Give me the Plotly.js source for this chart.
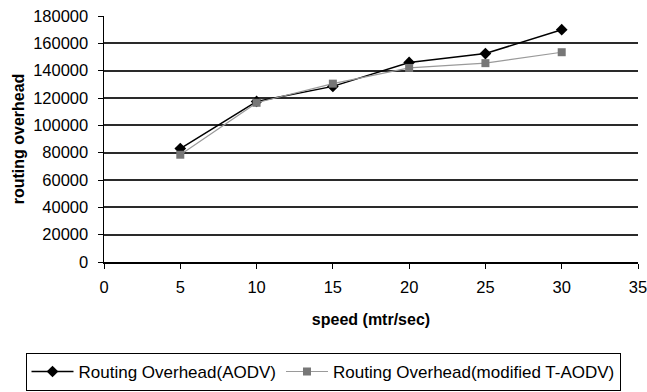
<!DOCTYPE html>
<html><head><meta charset="utf-8">
<script src="https://cdn.plot.ly/plotly-3.0.1.min.js"></script>
<style>html,body{margin:0;padding:0;background:#fff}</style>
</head><body>
<div id="chart" style="width:647px;height:392px"></div>
<script>
const speed = [5, 10, 15, 20, 25, 30];
const aodv = [83000, 117500, 128500, 146000, 152500, 170000];
const tAodv = [78500, 116500, 130500, 142000, 145500, 153500];
const gridVals = [20000, 40000, 60000, 80000, 100000, 120000, 140000, 160000];
const nameAodv = 'Routing Overhead(AODV)';
const nameT = 'Routing Overhead(modified T-AODV)';

const traces = [
  {x: [speed[0]], y: [aodv[0]], yaxis: 'y2', mode: 'markers', marker: {opacity: 0}, showlegend: false, hoverinfo: 'skip'},
  {x: speed, y: aodv, name: nameAodv, type: 'scatter', mode: 'lines+markers',
   line: {color: '#000000', width: 1.5}, marker: {symbol: 'diamond', size: 9, color: '#000000'}},
  {x: speed, y: tAodv, name: nameT, type: 'scatter', mode: 'lines+markers',
   line: {color: '#9a9a9a', width: 1.2}, marker: {symbol: 'square', size: 8, color: '#777777'}}
];
const layout = {
  width: 647, height: 392,
  margin: {l: 104, r: 9, t: 16, b: 130, autoexpand: false},
  paper_bgcolor: '#fff', plot_bgcolor: 'rgba(0,0,0,0)',
  font: {family: 'Liberation Sans, Arial, sans-serif', size: 16, color: '#000'},
  showlegend: true,
  legend: {orientation: 'h', x: -0.147, xanchor: 'left', y: -0.447, yanchor: 'middle',
    bordercolor: '#000', borderwidth: 1, font: {size: 17}, itemwidth: 42, tracegroupgap: 0},
  xaxis: {range: [0, 35], dtick: 5, tick0: 0, showgrid: false, zeroline: false,
    showline: true, linecolor: '#000', linewidth: 1.5, ticks: 'outside', ticklen: 5, tickcolor: '#000',
    tickfont: {size: 16.5}, ticklabeloverflow: 'allow', ticklabelstandoff: 5,
    title: {text: '<b>speed (mtr/sec)</b>', font: {size: 16}, standoff: 18}, fixedrange: true},
  yaxis: {range: [0, 180000], dtick: 20000, tick0: 0, showgrid: false,
    zeroline: false, showline: true, linecolor: '#000', linewidth: 1.5, ticks: 'outside', ticklen: 5, tickcolor: '#000',
    tickformat: 'd', tickfont: {size: 16.5}, ticklabelstandoff: 6,
    title: {text: '<b>routing overhead</b>', font: {size: 16}, standoff: 4}, fixedrange: true},
  yaxis2: {range: [0, 180000], overlaying: 'y', tickvals: gridVals, showticklabels: false,
    showgrid: true, gridcolor: '#2a2a2a', gridwidth: 2, zeroline: false, showline: false, ticks: '', fixedrange: true}
};
Plotly.newPlot('chart', traces, layout, {displayModeBar: false, staticPlot: true});
</script>
</body></html>
